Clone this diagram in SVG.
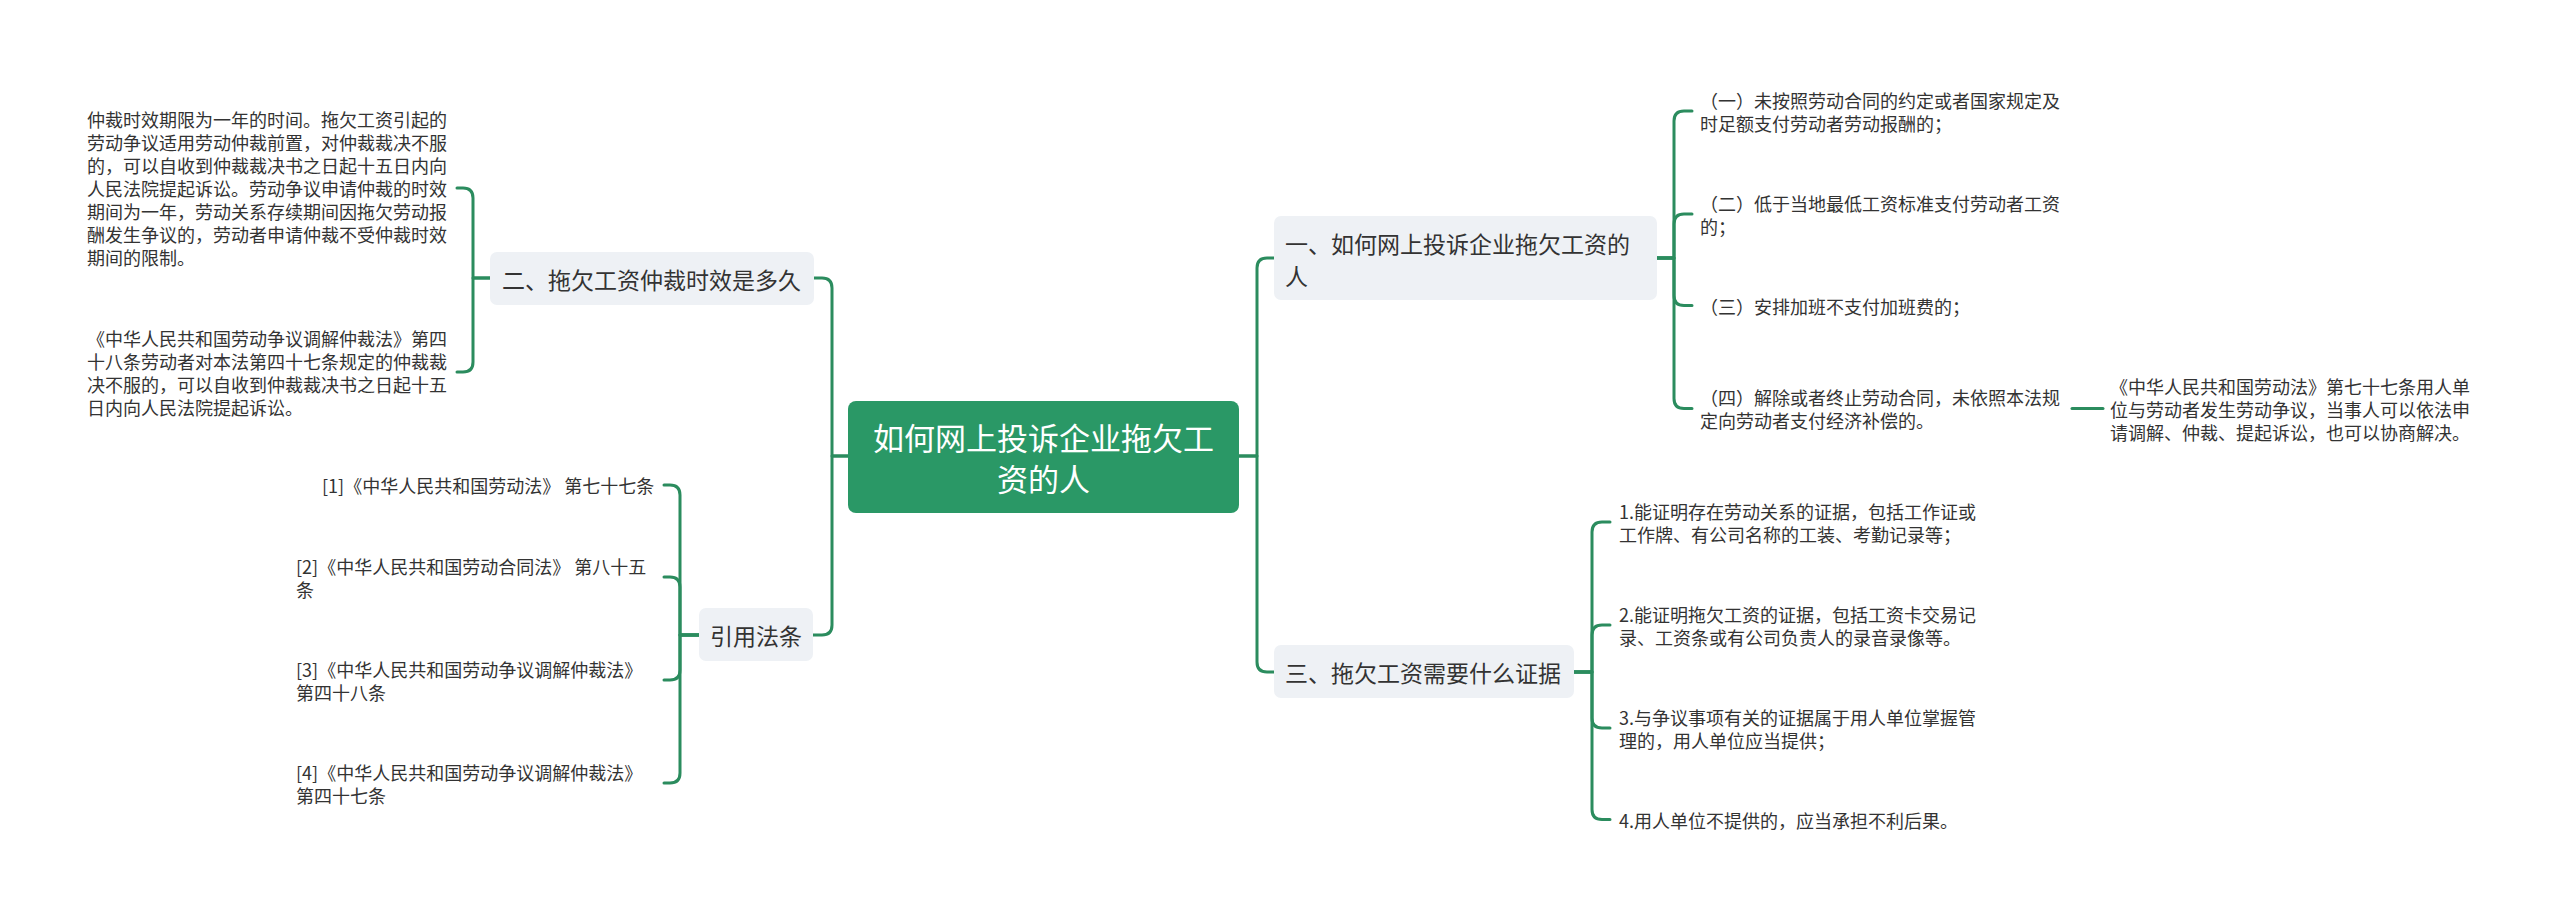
<svg xmlns="http://www.w3.org/2000/svg" width="2560" height="918" viewBox="0 0 2560 918">
<style>
text{font-family:"Noto Sans CJK SC","Noto Sans",sans-serif;dominant-baseline:central;fill:#333333}
.leaf{font-size:18px}
.topic{font-size:23px}
.root{font-size:31px;fill:#ffffff;text-anchor:middle}
.sub{fill:#eef1f5}
.conn path{fill:none;stroke:#2b8c5e;stroke-width:3;stroke-linecap:round;stroke-linejoin:round}
</style>
<rect x="0" y="0" width="2560" height="918" fill="#ffffff"/>
<g class="conn" id="connectors">
<path d="M848,456 H832 V288 Q832,278 822,278 H814"/>
<path d="M848,456 H832 V625 Q832,635 822,635 H813"/>
<path d="M1239,456 H1257 V268 Q1257,258 1267,258 H1274"/>
<path d="M1239,456 H1257 V662 Q1257,672 1267,672 H1274"/>
<path d="M1657,258 H1674 V121 Q1674,111 1684,111 H1692"/>
<path d="M1657,258 H1674 V224 Q1674,214 1684,214 H1692"/>
<path d="M1657,258 H1674 V295.5 Q1674,305.5 1684,305.5 H1692"/>
<path d="M1657,258 H1674 V398.5 Q1674,408.5 1684,408.5 H1692"/>
<path d="M2072,408.5 H2103"/>
<path d="M1574,672 H1592 V532 Q1592,522 1602,522 H1610"/>
<path d="M1574,672 H1592 V635 Q1592,625 1602,625 H1610"/>
<path d="M1574,672 H1592 V718 Q1592,728 1602,728 H1610"/>
<path d="M1574,672 H1592 V809.5 Q1592,819.5 1602,819.5 H1610"/>
<path d="M490,278 H473 V198 Q473,188 463,188 H457"/>
<path d="M490,278 H473 V362 Q473,372 463,372 H457"/>
<path d="M699,635 H680 V495 Q680,485 670,485 H664"/>
<path d="M699,635 H680 V587 Q680,577 670,577 H664"/>
<path d="M699,635 H680 V670 Q680,680 670,680 H664"/>
<path d="M699,635 H680 V773 Q680,783 670,783 H664"/>
</g>
<g id="root">
<rect x="848" y="401" width="391" height="112" rx="8" fill="#2a9866"/>
<text class="root" x="1043.5" y="436.5">如何网上投诉企业拖欠工</text>
<text class="root" x="1043.5" y="477.5">资的人</text>
</g>
<g id="topic-2">
<rect class="sub" x="490" y="252" width="324" height="53" rx="7"/>
<text class="topic" x="502" y="278.5">二、拖欠工资仲裁时效是多久</text>
</g>
<g id="topic-cite">
<rect class="sub" x="699" y="608" width="114" height="53" rx="7"/>
<text class="topic" x="710" y="634.5">引用法条</text>
</g>
<g id="topic-1">
<rect class="sub" x="1274" y="216" width="383" height="84" rx="7"/>
<text class="topic" x="1285" y="243">一、如何网上投诉企业拖欠工资的</text>
<text class="topic" x="1285" y="275">人</text>
</g>
<g id="topic-3">
<rect class="sub" x="1274" y="645" width="300" height="53" rx="7"/>
<text class="topic" x="1285" y="671.5">三、拖欠工资需要什么证据</text>
</g>
<g id="leaf-2a">
<text class="leaf" x="87" y="119">仲裁时效期限为一年的时间。拖欠工资引起的</text>
<text class="leaf" x="87" y="142">劳动争议适用劳动仲裁前置，对仲裁裁决不服</text>
<text class="leaf" x="87" y="165">的，可以自收到仲裁裁决书之日起十五日内向</text>
<text class="leaf" x="87" y="188">人民法院提起诉讼。劳动争议申请仲裁的时效</text>
<text class="leaf" x="87" y="211">期间为一年，劳动关系存续期间因拖欠劳动报</text>
<text class="leaf" x="87" y="234">酬发生争议的，劳动者申请仲裁不受仲裁时效</text>
<text class="leaf" x="87" y="257">期间的限制。</text>
</g>
<g id="leaf-2b">
<text class="leaf" x="87" y="338">《中华人民共和国劳动争议调解仲裁法》第四</text>
<text class="leaf" x="87" y="361">十八条劳动者对本法第四十七条规定的仲裁裁</text>
<text class="leaf" x="87" y="384">决不服的，可以自收到仲裁裁决书之日起十五</text>
<text class="leaf" x="87" y="407">日内向人民法院提起诉讼。</text>
</g>
<g id="cite-1">
<text class="leaf" x="322" y="485">[1]《中华人民共和国劳动法》 第七十七条</text>
</g>
<g id="cite-2">
<text class="leaf" x="296" y="565.5">[2]《中华人民共和国劳动合同法》 第八十五</text>
<text class="leaf" x="296" y="588.5">条</text>
</g>
<g id="cite-3">
<text class="leaf" x="296" y="668.5">[3]《中华人民共和国劳动争议调解仲裁法》</text>
<text class="leaf" x="296" y="691.5">第四十八条</text>
</g>
<g id="cite-4">
<text class="leaf" x="296" y="771.5">[4]《中华人民共和国劳动争议调解仲裁法》</text>
<text class="leaf" x="296" y="794.5">第四十七条</text>
</g>
<g id="leaf-1a">
<text class="leaf" x="1700" y="99.5">（一）未按照劳动合同的约定或者国家规定及</text>
<text class="leaf" x="1700" y="122.5">时足额支付劳动者劳动报酬的；</text>
</g>
<g id="leaf-1b">
<text class="leaf" x="1700" y="202.5">（二）低于当地最低工资标准支付劳动者工资</text>
<text class="leaf" x="1700" y="225.5">的；</text>
</g>
<g id="leaf-1c">
<text class="leaf" x="1700" y="305.5">（三）安排加班不支付加班费的；</text>
</g>
<g id="leaf-1d">
<text class="leaf" x="1700" y="397">（四）解除或者终止劳动合同，未依照本法规</text>
<text class="leaf" x="1700" y="420">定向劳动者支付经济补偿的。</text>
</g>
<g id="leaf-1d-note">
<text class="leaf" x="2110" y="385.5">《中华人民共和国劳动法》第七十七条用人单</text>
<text class="leaf" x="2110" y="408.5">位与劳动者发生劳动争议，当事人可以依法申</text>
<text class="leaf" x="2110" y="431.5">请调解、仲裁、提起诉讼，也可以协商解决。</text>
</g>
<g id="leaf-3a">
<text class="leaf" x="1619" y="510.5">1.能证明存在劳动关系的证据，包括工作证或</text>
<text class="leaf" x="1619" y="533.5">工作牌、有公司名称的工装、考勤记录等；</text>
</g>
<g id="leaf-3b">
<text class="leaf" x="1619" y="613.5">2.能证明拖欠工资的证据，包括工资卡交易记</text>
<text class="leaf" x="1619" y="636.5">录、工资条或有公司负责人的录音录像等。</text>
</g>
<g id="leaf-3c">
<text class="leaf" x="1619" y="716.5">3.与争议事项有关的证据属于用人单位掌握管</text>
<text class="leaf" x="1619" y="739.5">理的，用人单位应当提供；</text>
</g>
<g id="leaf-3d">
<text class="leaf" x="1619" y="819.5">4.用人单位不提供的，应当承担不利后果。</text>
</g>
</svg>
